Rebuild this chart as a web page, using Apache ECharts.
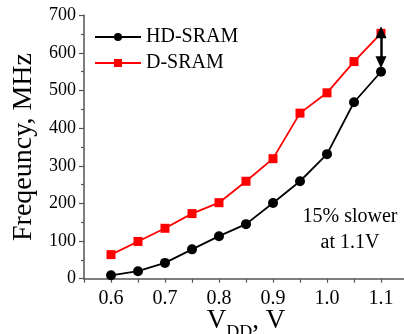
<!DOCTYPE html>
<html><head><meta charset="utf-8">
<script src="https://cdn.jsdelivr.net/npm/echarts@6/dist/echarts.min.js"></script>
<style>html,body{margin:0;padding:0;background:#fff}#c{width:404px;height:334px}</style>
</head><body><div id="c"></div>
<script>
const vdd = [0.6, 0.65, 0.7, 0.75, 0.8, 0.85, 0.9, 0.95, 1.0, 1.05, 1.1];
const hdSram = [9, 20, 42, 78, 113, 145, 201, 259, 331, 469, 550];
const dSram = [64, 99, 134, 173, 202, 259, 319, 440, 494, 577, 652];
const arrowFrom = [1.1, 655];
const arrowTo = [1.1, 575];
const note = ['15% slower', 'at 1.1V'];
const FONT = "'Liberation Serif', 'Times New Roman', serif";

const chart = echarts.init(document.getElementById('c'), null, {renderer: 'canvas'});
chart.setOption({
  animation: false,
  backgroundColor: '#fff',
  textStyle: {fontFamily: FONT},
  grid: {left: 84, top: 15.3, bottom: 55.3, right: -4, containLabel: false, outerBoundsMode: 'none'},
  legend: {
    orient: 'vertical', left: 94, top: 27, itemGap: 6, padding: 0,
    itemWidth: 46, itemHeight: 10,
    textStyle: {fontFamily: FONT, fontSize: 20, color: '#000'},
    data: ['HD-SRAM', 'D-SRAM']
  },
  xAxis: {
    type: 'value', min: 0.55, max: 1.15, interval: 0.05,
    name: '{v|V}{s|DD}{v|, V}', nameLocation: 'middle', nameGap: 20, nameMoveOverlap: false,
    nameTextStyle: {fontFamily: FONT, color: '#000',
      rich: {v: {fontFamily: FONT, fontSize: 27, color: '#000'},
             s: {fontFamily: FONT, fontSize: 18, color: '#000', padding: [26, 0, 0, 0]}}},
    axisLine: {show: true, onZero: false, lineStyle: {color: '#555', width: 1.5}},
    axisTick: {show: true, inside: false, length: 4, lineStyle: {color: '#555', width: 1.2}},
    splitLine: {show: false},
    axisLabel: {fontFamily: FONT, fontSize: 20, color: '#000', margin: 10,
      formatter: v => (Math.round(v * 100) % 10 === 0 ? v.toFixed(1) : '')}
  },
  yAxis: {
    type: 'value', min: 0, max: 700, interval: 100,
    name: 'Freqeuncy, MHz', nameLocation: 'middle', nameGap: 40,
    nameTextStyle: {fontFamily: FONT, fontSize: 28, color: '#000'},
    axisLine: {show: true, lineStyle: {color: '#555', width: 1.5}},
    axisTick: {show: true, inside: false, length: 5, lineStyle: {color: '#555', width: 1.2}},
    minorTick: {show: true, splitNumber: 2, length: 3, lineStyle: {color: '#555', width: 1.2}},
    splitLine: {show: false},
    axisLabel: {fontFamily: FONT, fontSize: 18, color: '#000', margin: 8}
  },
  series: [
    {
      name: 'HD-SRAM', type: 'line',
      data: vdd.map((x, i) => [x, hdSram[i]]),
      symbol: 'circle', symbolSize: 10,
      lineStyle: {color: '#000', width: 1.8},
      itemStyle: {color: '#000'},
      z: 3
    },
    {
      name: 'D-SRAM', type: 'line',
      data: vdd.map((x, i) => [x, dSram[i]]),
      symbol: 'rect', symbolSize: 9,
      lineStyle: {color: '#ff0000', width: 1.8},
      itemStyle: {color: '#ff0000'},
      z: 2,
      markLine: {
        silent: true, symbol: ['triangle', 'triangle'], symbolSize: [11, 12],
        label: {show: false},
        lineStyle: {color: '#000', width: 2.5, type: 'solid'},
        data: [[{coord: arrowFrom}, {coord: arrowTo}]]
      }
    }
  ],
  graphic: [{
    type: 'text', x: 350, y: 230,
    style: {text: note.join('\n'), font: "20px " + FONT, fontFamily: FONT, fontSize: 20, fill: '#000',
      align: 'center', verticalAlign: 'middle', lineHeight: 26}
  }]
});
</script></body></html>
